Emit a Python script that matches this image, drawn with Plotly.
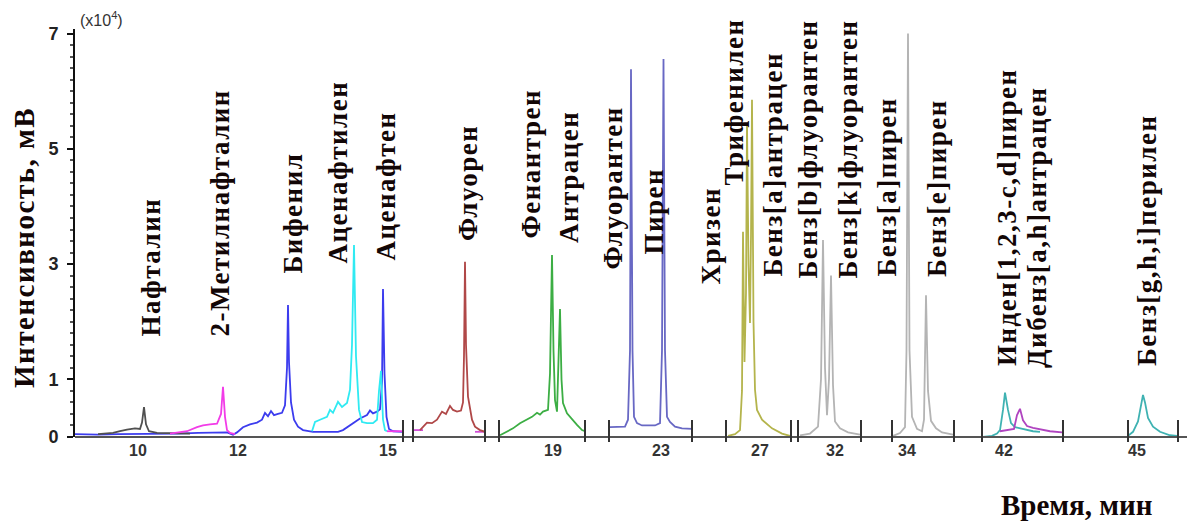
import plotly.graph_objects as go

# ---------------- data (time in min, intensity in x10^4 mV) ----------------
SEG_RANGES = [[8.74, 15.3], [15.5, 16.94], [17.92, 19.64], [21.96, 23.62],
              [26.32, 27.62], [31.26, 32.52], [33.7, 34.94], [41.56, 43.18], [44.82, 45.82]]
SEG_TICKS = [[10, 12, 15], [], [19], [23], [27], [32], [34], [42], [45]]

# segment 1
T_blue = [8.74, 9.2, 9.6, 10.0, 10.4, 10.8, 11.2, 11.6, 11.78, 11.9, 11.98, 12.1, 12.24, 12.38, 12.48,
          12.54, 12.6, 12.66, 12.72, 12.8, 12.88, 12.94, 12.98, 13.0, 13.02, 13.06, 13.12, 13.2, 13.3,
          13.5, 14.0, 14.1, 14.2, 14.3, 14.44, 14.58, 14.64, 14.7, 14.78, 14.84, 14.88, 14.9, 14.93,
          14.97, 15.02, 15.1, 15.3]
V_blue = [0.05, 0.04, 0.05, 0.05, 0.05, 0.06, 0.07, 0.08, 0.08, 0.04, 0.08, 0.17, 0.22, 0.25, 0.3,
          0.42, 0.36, 0.45, 0.38, 0.4, 0.42, 0.55, 1.2, 2.29, 1.3, 0.6, 0.3, 0.18, 0.12,
          0.09, 0.09, 0.12, 0.18, 0.25, 0.32, 0.38, 0.46, 0.41, 0.44, 0.48, 0.95, 2.57, 1.1,
          0.35, 0.14, 0.1, 0.09]
T_cyan = [13.48, 13.54, 13.64, 13.78, 13.84, 13.9, 14.0, 14.08, 14.18, 14.24, 14.28, 14.32, 14.36,
          14.42, 14.48, 14.58, 14.7, 14.78, 14.82, 14.86, 14.9, 14.94, 14.98]
V_cyan = [0.1, 0.26, 0.3, 0.35, 0.47, 0.42, 0.61, 0.52, 0.59, 0.82, 1.6, 3.33, 1.4,
          0.47, 0.26, 0.24, 0.24, 0.3, 0.8, 1.15, 0.3, 0.12, 0.1]
T_naph = [9.2, 9.5, 9.64, 9.78, 9.94, 10.04, 10.08, 10.12, 10.16, 10.22, 10.38, 10.78, 11.04]
V_naph = [0.05, 0.07, 0.1, 0.13, 0.15, 0.14, 0.25, 0.52, 0.22, 0.1, 0.07, 0.06, 0.06]
T_mnap = [10.64, 10.98, 11.18, 11.3, 11.44, 11.58, 11.66, 11.7, 11.74, 11.78, 11.84, 11.94, None, 14.98, 15.3]
V_mnap = [0.06, 0.1, 0.17, 0.2, 0.22, 0.23, 0.4, 0.87, 0.35, 0.12, 0.07, 0.05, None, 0.1, 0.1]
# segment 2
T_s2mag = [15.5, 15.7, None, 16.74, 16.94]
V_s2mag = [0.12, 0.12, None, 0.09, 0.09]
T_flu = [15.64, 15.78, 15.88, 15.98, 16.08, 16.16, 16.24, 16.3, 16.38, 16.46, 16.5, 16.52, 16.54,
         16.56, 16.6, 16.68, 16.74, 16.84, 16.94]
V_flu = [0.12, 0.25, 0.24, 0.3, 0.44, 0.4, 0.54, 0.47, 0.44, 0.46, 0.6, 1.4, 3.04,
         1.6, 0.7, 0.3, 0.18, 0.12, 0.09]
# segment 3
T_phe = [17.94, 18.08, 18.2, 18.34, 18.48, 18.58, 18.68, 18.74, 18.8, 18.9, 18.94, 18.98, 19.01,
         19.04, 19.08, 19.11, 19.14, 19.17, 19.2, 19.28, 19.38, 19.48, 19.58, 19.64]
V_phe = [0.03, 0.09, 0.15, 0.24, 0.3, 0.35, 0.42, 0.39, 0.44, 0.47, 1.1, 3.16, 1.5,
         0.64, 0.44, 1.2, 2.22, 1.0, 0.59, 0.41, 0.3, 0.21, 0.12, 0.1]
# segment 4
T_pyr = [21.98, 22.28, 22.34, 22.38, 22.4, 22.43, 22.46, 22.52, 22.62, 22.88, 22.98, 23.02, 23.05,
         23.08, 23.12, 23.18, 23.28, 23.42, 23.62]
V_pyr = [0.17, 0.18, 0.3, 1.5, 6.38, 1.5, 0.35, 0.24, 0.2, 0.2, 0.24, 1.5, 6.56,
         1.5, 0.35, 0.26, 0.18, 0.15, 0.14]
# segment 5
T_chr = [26.36, 26.5, 26.6, 26.64, 26.66, 26.69, 26.72, 26.74, 26.77, 26.8, 26.82, 26.84, 26.87,
         26.9, 26.94, 27.04, 27.24, 27.44, 27.6]
V_chr = [0.02, 0.05, 0.12, 0.8, 3.56, 1.3, 2.5, 5.45, 3.0, 1.98, 3.5, 5.85, 2.0,
         0.82, 0.47, 0.3, 0.15, 0.06, 0.02]
# segment 6
T_bbf = [31.3, 31.5, 31.66, 31.72, 31.76, 31.8, 31.84, 31.88, 31.92, 31.96, 32.0, 32.1, 32.26, 32.5]
V_bbf = [0.03, 0.06, 0.18, 1.0, 3.42, 1.2, 0.38, 1.0, 2.8, 0.9, 0.27, 0.15, 0.08, 0.04]
# segment 7
T_bap = [33.72, 33.86, 33.96, 33.99, 34.02, 34.05, 34.1, 34.2, 34.3, 34.34, 34.38, 34.42, 34.48,
         34.58, 34.7, 34.92]
V_bap = [0.02, 0.07, 0.17, 1.5, 7.0, 1.5, 0.35, 0.14, 0.1, 0.3, 2.46, 0.8, 0.28,
         0.15, 0.08, 0.04]
# segment 8
T_ind = [41.58, 41.76, 41.86, 41.92, 41.98, 42.02, 42.08, 42.14, 42.22, 42.32, 42.46, 42.58, 42.72]
V_ind = [0.0, 0.02, 0.06, 0.12, 0.47, 0.77, 0.47, 0.24, 0.17, 0.15, 0.12, 0.1, 0.09]
T_dba = [41.92, 42.06, 42.2, 42.26, 42.32, 42.38, 42.46, 42.58, 42.76, 42.92, 43.16]
V_dba = [0.1, 0.12, 0.14, 0.38, 0.49, 0.29, 0.19, 0.16, 0.13, 0.1, 0.08]
# segment 9
T_bgh = [44.82, 44.92, 45.02, 45.1, 45.12, 45.16, 45.22, 45.32, 45.46, 45.66, 45.8]
V_bgh = [0.02, 0.09, 0.27, 0.64, 0.73, 0.6, 0.33, 0.18, 0.09, 0.03, 0.02]

LABELS = ["Нафталин", "2-Метилнафталин", "Бифенил", "Аценафтилен", "Аценафтен", "Флуорен",
          "Фенантрен", "Антрацен", "Флуорантен", "Пирен", "Хризен", "Трифенилен",
          "Бенз[a]антрацен", "Бенз[b]флуорантен", "Бенз[k]флуорантен", "Бенз[a]пирен",
          "Бенз[e]пирен", "Инден[1,2,3-c,d]пирен", "Дибенз[a,h]антрацен", "Бенз[g,h,i]перилен"]
Y_TICKS = [0, 1, 3, 5, 7]

# ---------------- layout constants (window pixels) ----------------
OFF = 8                                   # page body margin of the html page
W, H = 1195 - OFF, 522 - OFF              # figure size so it fits the window exactly
PL, PR, PT, PB = 75, 1192, 29, 437        # plot area in window pixels
PW, PH = PR - PL, PB - PT
SEG_PX = [(75, 403), (413, 485), (499, 585), (609, 692), (726, 791), (798, 861),
          (892, 954), (982, 1063), (1128, 1178)]
LABEL_X = [150, 219, 292, 337, 386, 468, 531, 569, 612, 653, 710, 734, 772, 807, 847, 886, 937,
           1007, 1037, 1147]
LABEL_BOTTOM = [339, 339, 276, 266, 263, 243, 241, 245, 272, 257, 287, 188, 279, 281, 281, 279, 279,
                368, 370, 368]

def px(x):
    return (x - PL) / PW

def py(y):
    return (PB - y) / PH

SERIES = [  # (t, v, segment index, color)
    (T_blue, V_blue, 0, "#3c3cee"),
    (T_cyan, V_cyan, 0, "#30eaf2"),
    (T_naph, V_naph, 0, "#505050"),
    (T_mnap, V_mnap, 0, "#f23ce8"),
    (T_s2mag, V_s2mag, 1, "#d050d8"),
    (T_flu, V_flu, 1, "#b04848"),
    (T_phe, V_phe, 2, "#3cae44"),
    (T_pyr, V_pyr, 3, "#6868c4"),
    (T_chr, V_chr, 4, "#b4b44c"),
    (T_bbf, V_bbf, 5, "#b4b4b4"),
    (T_bap, V_bap, 6, "#b4b4b4"),
    (T_ind, V_ind, 7, "#3fb2b2"),
    (T_dba, V_dba, 7, "#b044c0"),
    (T_bgh, V_bgh, 8, "#3fb2b2"),
]

fig = go.Figure()
for t, v, seg, col in SERIES:
    xa = "x" if seg == 0 else f"x{seg + 1}"
    fig.add_trace(go.Scatter(x=t, y=v, xaxis=xa, yaxis="y", mode="lines",
                             line=dict(color=col, width=1.8), connectgaps=False,
                             showlegend=False, hoverinfo="skip"))

layout = dict(
    width=W, height=H, plot_bgcolor="white", paper_bgcolor="white",
    margin=dict(l=PL - OFF, r=W - (PR - OFF), t=PT - OFF, b=H - (PB - OFF)),
    showlegend=False,
    yaxis=dict(range=[0, 7.08], anchor="x", showgrid=False, zeroline=False,
               showline=True, linecolor="#111", linewidth=2,
               tickmode="array", tickvals=Y_TICKS, ticktext=[str(v) for v in Y_TICKS],
               ticks="outside", ticklen=6, tickwidth=1.5, tickcolor="#111",
               ticklabelstandoff=5, automargin=False,
               minor=dict(tickmode="linear", tick0=0, dtick=0.2, ticks="outside",
                          ticklen=3, tickcolor="#555"),
               tickfont=dict(family="Liberation Sans", size=18, color="#222", weight="bold")),
)
for i, (rng, ticks) in enumerate(zip(SEG_RANGES, SEG_TICKS)):
    name = "xaxis" if i == 0 else f"xaxis{i + 1}"
    a, b = SEG_PX[i]
    layout[name] = dict(domain=[px(a), px(b)], range=rng, anchor="y", automargin=False,
                        showgrid=False, zeroline=False, showline=False,
                        tickmode="array", tickvals=ticks, ticktext=[str(k) for k in ticks],
                        ticks="", ticklabelstandoff=2,
                        tickfont=dict(family="Liberation Sans", size=16, color="#333",
                                      weight="bold"))
fig.update_layout(**layout)

shapes = [dict(type="line", xref="paper", yref="paper", x0=0, x1=1, y0=0, y1=0,
               line=dict(color="#555", width=2))]
for i, (a, b) in enumerate(SEG_PX):
    edges = [b] if i == 0 else [a, b]
    for e in edges:
        shapes.append(dict(type="line", xref="paper", yref="paper", x0=px(e), x1=px(e),
                           y0=py(420), y1=py(442), line=dict(color="#333", width=2)))
fig.update_layout(shapes=shapes)

ann = []
serif = "Liberation Serif"
SPACED = '<span style="letter-spacing:1.5px">{}</span>'
for text, lx, lb in zip(LABELS, LABEL_X, LABEL_BOTTOM):
    ann.append(dict(text=SPACED.format(text), xref="paper", yref="paper", x=px(lx), y=py(lb),
                    xanchor="center", yanchor="bottom", textangle=-90, showarrow=False,
                    font=dict(family=serif, size=27, color="#120606", weight="bold")))
ann.append(dict(text=SPACED.format("Интенсивность, мВ"), xref="paper", yref="paper",
                x=px(24), y=py(248),
                xanchor="center", yanchor="middle", textangle=-90, showarrow=False,
                font=dict(family=serif, size=29, color="#120606", weight="bold")))
ann.append(dict(text="Время, мин", xref="paper", yref="paper", x=px(1076), y=py(505),
                xanchor="center", yanchor="middle", showarrow=False,
                font=dict(family=serif, size=29, color="#120606", weight="bold")))
ann.append(dict(text="(x10<sup>4</sup>)", xref="paper", yref="paper", x=px(78), y=py(19),
                xanchor="left", yanchor="middle", showarrow=False,
                font=dict(family="Liberation Sans", size=16, color="#333")))
fig.update_layout(annotations=ann)

fig.write_html("out.html")
